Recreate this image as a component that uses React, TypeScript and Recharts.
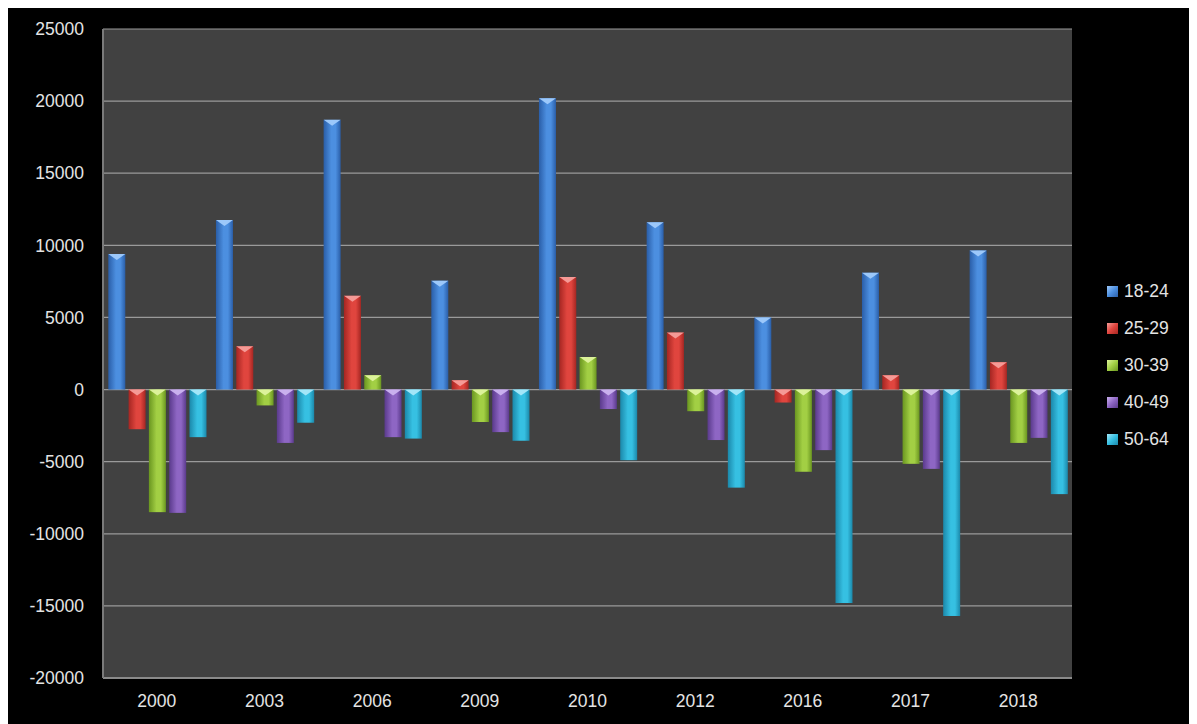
import { BarChart, Bar, XAxis, YAxis, CartesianGrid, Legend } from 'recharts'

// 年
const YEARS = ['2000', '2003', '2006', '2009', '2010', '2012', '2016', '2017', '2018']

// 年齢層ごとの値
const AGE_18_24 = [9400, 11750, 18700, 7550, 20200, 11600, 5000, 8100, 9650]
const AGE_25_29 = [-2750, 3000, 6500, 650, 7800, 3950, -900, 1000, 1900]
const AGE_30_39 = [-8500, -1100, 1000, -2250, 2250, -1500, -5700, -5150, -3700]
const AGE_40_49 = [-8550, -3700, -3300, -2950, -1350, -3500, -4200, -5500, -3350]
const AGE_50_64 = [-3300, -2300, -3400, -3550, -4900, -6800, -14800, -15700, -7250]

const Y_TICKS = [-20000, -15000, -10000, -5000, 0, 5000, 10000, 15000, 20000, 25000]

const SERIES = [
  { key: '18-24', values: AGE_18_24, mid: '#4c8fe0', edge: '#2a5ea8', cap: '#9cc8fa' },
  { key: '25-29', values: AGE_25_29, mid: '#e0453e', edge: '#a52622', cap: '#f59a96' },
  { key: '30-39', values: AGE_30_39, mid: '#a2cf44', edge: '#6a9620', cap: '#dcf29a' },
  { key: '40-49', values: AGE_40_49, mid: '#8e66c4', edge: '#5a3a8c', cap: '#c9b0ee' },
  { key: '50-64', values: AGE_50_64, mid: '#36c0e2', edge: '#1b88aa', cap: '#a2e6f8' },
]

const chartData = YEARS.map((year, i) => {
  const row: Record<string, string | number> = { year }
  SERIES.forEach((s) => {
    row[s.key] = s.values[i]
  })
  return row
})

const FONT = 'Liberation Sans, Arial, sans-serif'
const TEXT = '#e4e4e4'

// 立体風の棒
const makeShape = (idx: number) => (props: any) => {
  const { x, y, width, height } = props
  const top = Math.min(y, y + height)
  const h = Math.abs(height)
  const capH = Math.min(6, h)
  return (
    <g>
      <rect x={x} y={top} width={width} height={h} fill={`url(#grad${idx})`} />
      <polygon
        points={`${x},${top} ${x + width},${top} ${x + width / 2},${top + capH}`}
        fill={SERIES[idx].cap}
      />
    </g>
  )
}

const renderLegend = () => (
  <div style={{ fontFamily: FONT, fontSize: 17.5, color: TEXT }}>
    {SERIES.map((s) => (
      <div key={s.key} style={{ display: 'flex', alignItems: 'center', height: 37 }}>
        <span
          style={{
            display: 'inline-block',
            width: 11,
            height: 11,
            marginRight: 6,
            background: `linear-gradient(135deg, ${s.cap}, ${s.mid} 50%, ${s.edge})`,
          }}
        />
        {s.key}
      </div>
    ))}
  </div>
)

export default function App() {
  return (
    <div style={{ background: '#000', width: 1189, height: 716 }}>
      <BarChart
        width={1189}
        height={716}
        data={chartData}
        margin={{ top: 21, right: 125, bottom: 0, left: 0 }}
        barCategoryGap={5.3}
        barGap={3.3}
      >
        <defs>
          {SERIES.map((s, i) => (
            <linearGradient key={s.key} id={`grad${i}`} x1="0" y1="0" x2="1" y2="0">
              <stop offset="0%" stopColor={s.edge} />
              <stop offset="45%" stopColor={s.mid} />
              <stop offset="70%" stopColor={s.mid} />
              <stop offset="100%" stopColor={s.edge} />
            </linearGradient>
          ))}
        </defs>
        <CartesianGrid vertical={false} fill="#414141" stroke="#9a9a9a" strokeWidth={1.2} />
        <XAxis
          dataKey="year"
          height={46}
          axisLine={{ stroke: '#8a8a8a', strokeWidth: 2 }}
          tickLine={false}
          tickSize={0}
          tickMargin={17}
          tick={{ fill: TEXT, fontSize: 17.5, fontFamily: FONT }}
        />
        <YAxis
          width={95}
          domain={[-20000, 25000]}
          ticks={Y_TICKS}
          interval={0}
          axisLine={{ stroke: '#7a7a7a', strokeWidth: 2 }}
          tickLine={false}
          tickSize={0}
          tickMargin={19}
          tick={{ fill: TEXT, fontSize: 17.5, fontFamily: FONT }}
        />
        <Legend
          layout="vertical"
          align="center"
          verticalAlign="middle"
          content={renderLegend}
          wrapperStyle={{ position: 'absolute', left: 1099, top: 265, width: 80 }}
        />
        {SERIES.map((s, i) => (
          <Bar
            key={s.key}
            dataKey={s.key}
            shape={makeShape(i)}
            isAnimationActive={false}
          />
        ))}
      </BarChart>
    </div>
  )
}
